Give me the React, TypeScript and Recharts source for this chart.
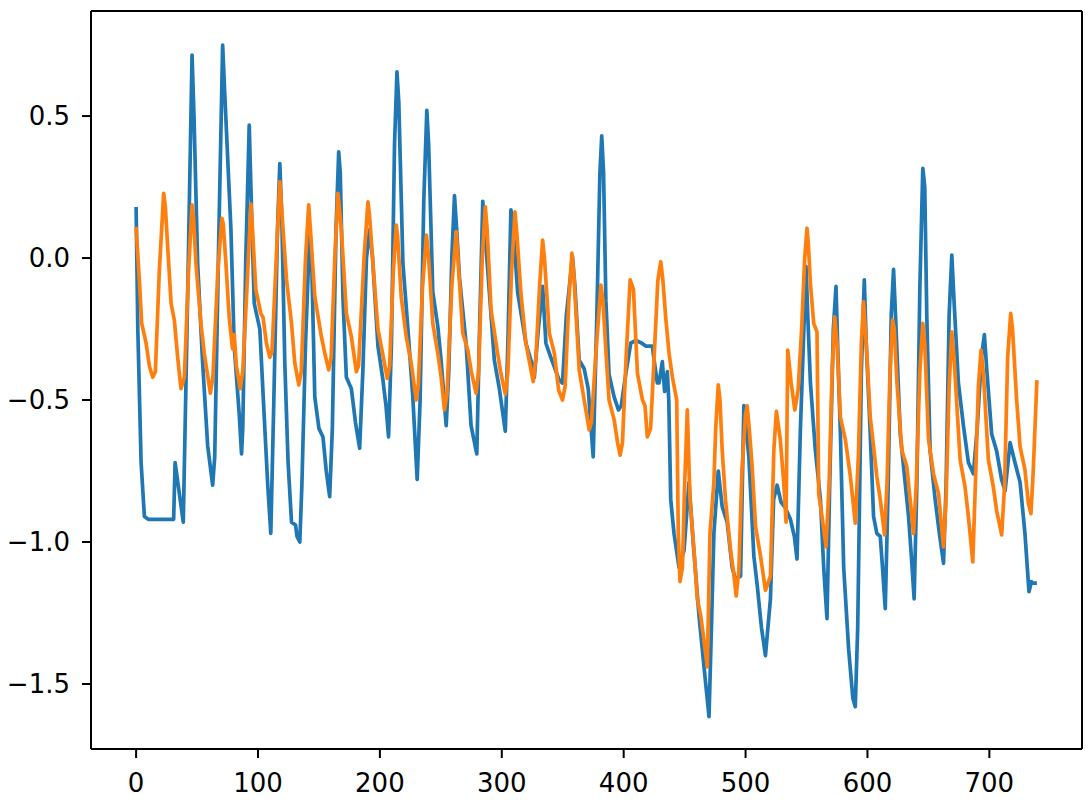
import React from "react";
import { LineChart, Line, XAxis, YAxis, ReferenceLine } from "recharts";

// keypoints (x = sample index)
const blueX = [
  0, 1.4, 4.1, 6.8, 10, 20, 30.8, 32, 35.5, 38.7, 42, 45.9, 47.5, 50.5, 54.6, 58.7, 62.8, 64.5, 67.5, 71, 72.5,
  77.8, 80.5, 84.6, 86.5, 87.5, 90, 92.8, 94.5, 96.9, 101.5, 105, 108, 110.5, 113, 116, 117.9, 119.5, 122, 124.7,
  127.5, 130.8, 132, 134.3, 136, 139, 142.5, 144, 146.6, 150, 153.3, 156, 158.8, 161, 164, 166.2, 167.5, 169.7,
  172.5, 176.6, 180, 183.4, 186, 189, 191.6, 194, 198.4, 202.5, 205, 207.1, 209.5, 212, 214, 215.5, 218.9, 223,
  227, 230.6, 233, 236, 238.5, 240, 243.4, 247.5, 250.2, 254.4, 256.5, 259, 261.2, 263, 265.3, 270.7, 274.8,
  279.5, 281.5, 284.4, 286, 289.8, 293.9, 298, 302.9, 305, 307.5, 309.5, 313, 319.8, 325.3, 326.7, 330, 333.5,
  336.2, 340.2, 347.1, 349.8, 353, 358, 360, 363.5, 367.6, 370.9, 375, 378, 380.5, 382, 383.5, 385.4, 388, 392.2,
  395.7, 398, 402, 405.8, 410, 415, 418, 423.5, 425, 427.6, 429, 431.7, 433.6, 435.8, 437, 438.6, 441.3, 445.4,
  449.5, 453.6, 457, 461.8, 465.9, 470, 472, 474, 477.6, 480.8, 484.9, 489, 491.7, 495.9, 498.6, 502.7, 506.8,
  509.5, 513, 516.3, 520.4, 523, 525.9, 529.1, 532.7, 536.8, 540, 542.2, 545, 549.6, 551, 553.2, 557.3, 561.4,
  564.1, 566.8, 569, 572, 574.2, 575.5, 577.8, 580.5, 584.6, 588, 590, 592, 595, 597.4, 599, 602.3, 605, 607.7,
  610.5, 612.5, 614.6, 617, 619.5, 621.4, 623, 626.9, 629.6, 633.7, 636, 638.3, 640.5, 643, 645.4, 647, 648.7,
  651.4, 655.5, 659, 662.4, 664.5, 667, 669.2, 671, 674.6, 678.7, 682.8, 686.9, 690, 693.5, 695.9, 698, 701.9,
  706, 710, 712.9, 717, 721, 725.2, 729.2, 732.5, 734.5, 736, 739,
];
const blueY = [
  0.18, -0.25, -0.72, -0.91, -0.92, -0.92, -0.92, -0.72, -0.83, -0.93, -0.2, 0.715, 0.5, -0.02, -0.37, -0.66,
  -0.8, -0.7, 0.0, 0.75, 0.6, 0.1, -0.31, -0.55, -0.69, -0.6, 0.0, 0.468, 0.2, -0.16, -0.25, -0.55, -0.8, -0.97,
  -0.5, 0.1, 0.333, 0.15, -0.37, -0.72, -0.93, -0.94, -0.98, -1.0, -0.8, -0.3, 0.1, 0.0, -0.49, -0.6, -0.63,
  -0.75, -0.84, -0.6, 0.1, 0.374, 0.3, -0.14, -0.42, -0.46, -0.58, -0.67, -0.4, 0.0, 0.1, 0.0, -0.31, -0.43,
  -0.52, -0.63, -0.3, 0.4, 0.656, 0.55, -0.02, -0.25, -0.49, -0.78, -0.5, 0.2, 0.52, 0.4, -0.12, -0.24, -0.36,
  -0.59, -0.4, 0.0, 0.22, 0.1, -0.07, -0.3, -0.59, -0.69, -0.3, 0.2, 0.1, -0.12, -0.36, -0.46, -0.61, -0.3, 0.17,
  0.1, -0.12, -0.3, -0.38, -0.42, -0.25, -0.1, -0.3, -0.35, -0.43, -0.44, -0.2, 0.005, -0.1, -0.36, -0.39, -0.46,
  -0.7, -0.2, 0.3, 0.43, 0.3, -0.15, -0.41, -0.49, -0.535, -0.52, -0.4, -0.3, -0.29, -0.3, -0.31, -0.31, -0.36,
  -0.44, -0.44, -0.365, -0.47, -0.4, -0.5, -0.85, -0.97, -1.09, -1.03, -0.79, -1.0, -1.26, -1.44, -1.615, -1.3,
  -0.97, -0.75, -0.875, -0.93, -1.09, -1.13, -1.12, -0.52, -0.7, -1.05, -1.15, -1.3, -1.4, -1.2, -0.85, -0.8,
  -0.86, -0.88, -0.92, -0.98, -1.06, -0.6, -0.03, -0.2, -0.44, -0.68, -0.85, -1.09, -1.27, -0.8, -0.25, -0.1, -0.3,
  -0.62, -1.09, -1.38, -1.55, -1.58, -1.3, -0.4, -0.077, -0.3, -0.62, -0.91, -0.97, -0.98, -1.1, -1.235, -0.8,
  -0.2, -0.04, -0.2, -0.62, -0.735, -0.91, -1.05, -1.2, -0.8, -0.1, 0.316, 0.25, -0.21, -0.68, -0.85, -0.97,
  -1.075, -0.8, -0.2, 0.01, -0.15, -0.44, -0.59, -0.72, -0.76, -0.6, -0.35, -0.27, -0.4, -0.62, -0.68, -0.78,
  -0.82, -0.65, -0.72, -0.79, -0.97, -1.175, -1.14, -1.145, -1.145,
];

const orangeX = [
  0, 2.7, 4.6, 8.2, 10.9, 13.6, 15.8, 19, 22.6, 24, 25.9, 28.7, 31.4, 34.1, 36.8, 39.6, 43, 45.9, 47, 49.1, 53.2,
  55.9, 60.9, 63, 67, 70.4, 71.5, 73.7, 76.4, 79.1, 80.5, 82.3, 85.4, 87.5, 91, 94.2, 95.5, 98.2, 102.3, 104.2,
  106.9, 109.7, 111.5, 115, 117.9, 119, 123.4, 127.5, 130.2, 133.5, 135.5, 139, 141.6, 143, 146.6, 152, 154.8,
  158, 160, 163, 165.6, 168.4, 172.5, 176.6, 180.7, 182.5, 187, 190.2, 191.5, 194.3, 198.4, 202, 206, 208, 211,
  213.4, 214.5, 217.5, 221.6, 225.7, 229.8, 231.5, 235, 238.2, 240, 243.4, 247.5, 250.2, 253, 255, 259, 262.6,
  264, 268, 272.1, 275, 278.9, 281, 284, 286.5, 288, 291.2, 295.3, 299, 302.9, 305, 308, 310.8, 312.5, 315.7,
  319.8, 322, 325.8, 328, 331, 333.5, 335, 339, 343.1, 346.6, 349.8, 352, 355, 357.5, 359, 363.5, 367.6, 371.7,
  373.5, 377, 381.3, 383, 385.4, 388, 392.2, 395, 397.1, 399, 402, 405.3, 408, 411.3, 415.4, 417.5, 419.4, 422.1,
  425, 428, 430.4, 432, 434.5, 437.2, 439.9, 443.5, 444.8, 446.2, 448.2, 450, 452.2, 454.4, 457.7, 460.4, 463.2,
  466, 468.6, 470.8, 474, 475.5, 477.6, 479, 480.8, 483.5, 487.7, 490, 492.3, 494.5, 497, 500, 501.3, 503, 505.4,
  508.2, 512.3, 516.3, 520.4, 523.2, 525.3, 528.5, 531.3, 533.2, 534.6, 537.4, 540.4, 543.1, 546, 548.5, 550.4,
  551.5, 553.2, 555.9, 558.6, 560, 562.7, 566, 568.5, 571, 573.1, 575, 577.8, 581.9, 586, 590, 592.5, 595, 596.8,
  599, 602.3, 607.7, 610.5, 614, 616, 618.5, 620.6, 622, 624.2, 628.2, 632.3, 635, 637.8, 640, 643, 645.4, 647,
  650.1, 654.2, 658.3, 662.4, 664.5, 667, 669.2, 671, 676, 680, 682.8, 686.4, 688.5, 691, 693.2, 695, 699.2,
  703.2, 706, 710.1, 712.5, 715, 717.5, 719, 722.4, 725.2, 729.2, 732, 734.1, 736, 739,
];
const orangeY = [
  0.11, -0.08, -0.23, -0.3, -0.38, -0.42, -0.4, -0.05, 0.228, 0.18, 0.04, -0.16, -0.22, -0.35, -0.46, -0.42,
  -0.05, 0.187, 0.15, -0.02, -0.23, -0.335, -0.476, -0.42, -0.05, 0.14, 0.12, -0.02, -0.21, -0.32, -0.27, -0.38,
  -0.46, -0.4, -0.1, 0.19, 0.1, -0.11, -0.195, -0.21, -0.3, -0.35, -0.33, 0.0, 0.269, 0.2, -0.077, -0.23, -0.37,
  -0.447, -0.4, 0.0, 0.187, 0.1, -0.136, -0.277, -0.335, -0.394, -0.35, 0.0, 0.228, 0.1, -0.195, -0.277, -0.4,
  -0.38, 0.0, 0.198, 0.15, -0.02, -0.25, -0.33, -0.424, -0.38, -0.05, 0.116, 0.08, -0.136, -0.277, -0.37, -0.5,
  -0.45, -0.1, 0.081, 0.0, -0.23, -0.335, -0.418, -0.535, -0.48, -0.1, 0.093, 0.0, -0.265, -0.324, -0.4, -0.476,
  -0.4, 0.0, 0.18, 0.1, -0.183, -0.3, -0.4, -0.48, -0.4, -0.05, 0.163, 0.08, -0.124, -0.3, -0.35, -0.435, -0.35,
  -0.1, 0.063, 0.0, -0.265, -0.335, -0.465, -0.5, -0.45, -0.15, 0.017, -0.05, -0.394, -0.5, -0.605, -0.58, -0.35,
  -0.095, -0.15, -0.324, -0.5, -0.57, -0.65, -0.694, -0.65, -0.35, -0.077, -0.11, -0.406, -0.5, -0.52, -0.63,
  -0.6, -0.35, -0.08, -0.013, -0.07, -0.21, -0.335, -0.418, -0.5, -0.97, -1.14, -1.09, -0.8, -0.535, -0.85,
  -1.03, -1.2, -1.26, -1.35, -1.44, -0.97, -0.79, -0.6, -0.447, -0.5, -0.676, -0.85, -1.03, -1.1, -1.19, -1.1,
  -0.75, -0.55, -0.52, -0.6, -0.735, -0.946, -1.05, -1.17, -1.12, -0.676, -0.54, -0.64, -0.79, -0.93, -0.324,
  -0.44, -0.535, -0.465, -0.25, 0.0, 0.105, 0.05, -0.09, -0.23, -0.26, -0.83, -0.91, -1.017, -0.8, -0.4, -0.207,
  -0.3, -0.56, -0.64, -0.77, -0.934, -0.7, -0.3, -0.154, -0.3, -0.56, -0.77, -0.85, -0.975, -0.8, -0.4, -0.218,
  -0.25, -0.44, -0.676, -0.735, -0.85, -0.97, -0.8, -0.4, -0.23, -0.3, -0.64, -0.76, -0.83, -1.017, -0.85, -0.45,
  -0.26, -0.35, -0.71, -0.805, -0.91, -1.07, -0.8, -0.45, -0.324, -0.4, -0.71, -0.805, -0.89, -0.975, -0.8,
  -0.35, -0.195, -0.25, -0.5, -0.664, -0.746, -0.864, -0.9, -0.75, -0.43,
];

const xTicks = [0, 100, 200, 300, 400, 500, 600, 700];
const yTicks = [-1.5, -1.0, -0.5, 0.0, 0.5];

const blueData = blueX.map((x, i) => ({ x, y: blueY[i] }));
const orangeData = orangeX.map((x, i) => ({ x, y: orangeY[i] }));

const xDomain = [-37, 776];
const yDomain = [-1.729, 0.87];

const font = "'DejaVu Sans', sans-serif";
const TICK_LEN = 9;
const TICK_PAD = 9;
const spine = { stroke: "#000", strokeWidth: 2 };

const fmtY = (v: number) => v.toFixed(1).replace("-", "\u2212");

// matplotlib-like ticks: a short outward mark plus the label
function XTick(props: any) {
  const { x, y, payload } = props;
  const axisY = y - TICK_LEN - TICK_PAD;
  return (
    <g>
      <line x1={x} x2={x} y1={axisY} y2={axisY + TICK_LEN} stroke="#000" strokeWidth={2} />
      <text x={x} y={y + 24.5} textAnchor="middle" fill="#000" fontSize={26} fontFamily={font}>
        {payload.value}
      </text>
    </g>
  );
}

function YTick(props: any) {
  const { x, y, payload } = props;
  const axisX = x + TICK_LEN + TICK_PAD;
  return (
    <g>
      <line x1={axisX - TICK_LEN} x2={axisX} y1={y} y2={y} stroke="#000" strokeWidth={2} />
      <text x={x - 3} y={y} dy="0.36em" textAnchor="end" fill="#000" fontSize={26} fontFamily={font}>
        {fmtY(payload.value)}
      </text>
    </g>
  );
}

export default function App() {
  return (
    <div style={{ position: "absolute", left: 0, top: 0, width: 1092, height: 805, background: "#fff" }}>
      <LineChart width={1092} height={805} margin={{ top: 11, right: 10, bottom: 0, left: 0 }}>
        <XAxis
          dataKey="x"
          type="number"
          domain={xDomain}
          ticks={xTicks}
          allowDataOverflow
          height={56}
          tick={<XTick />}
          tickSize={TICK_LEN}
          tickMargin={TICK_PAD}
          tickLine={false}
          axisLine={spine}
        />
        <YAxis
          type="number"
          domain={yDomain}
          ticks={yTicks}
          allowDataOverflow
          width={91}
          tick={<YTick />}
          tickSize={TICK_LEN}
          tickMargin={TICK_PAD}
          tickLine={false}
          axisLine={spine}
        />
        {/* top and right spines */}
        <ReferenceLine y={yDomain[1]} stroke="#000" strokeWidth={2} ifOverflow="visible" />
        <ReferenceLine x={xDomain[1]} stroke="#000" strokeWidth={2} ifOverflow="visible" />
        <Line
          data={blueData}
          dataKey="y"
          type="linear"
          stroke="#1f77b4"
          strokeWidth={3.7}
          strokeLinejoin="round"
          dot={false}
          activeDot={false}
          isAnimationActive={false}
        />
        <Line
          data={orangeData}
          dataKey="y"
          type="linear"
          stroke="#ff7f0e"
          strokeWidth={3.7}
          strokeLinejoin="round"
          dot={false}
          activeDot={false}
          isAnimationActive={false}
        />
      </LineChart>
    </div>
  );
}
